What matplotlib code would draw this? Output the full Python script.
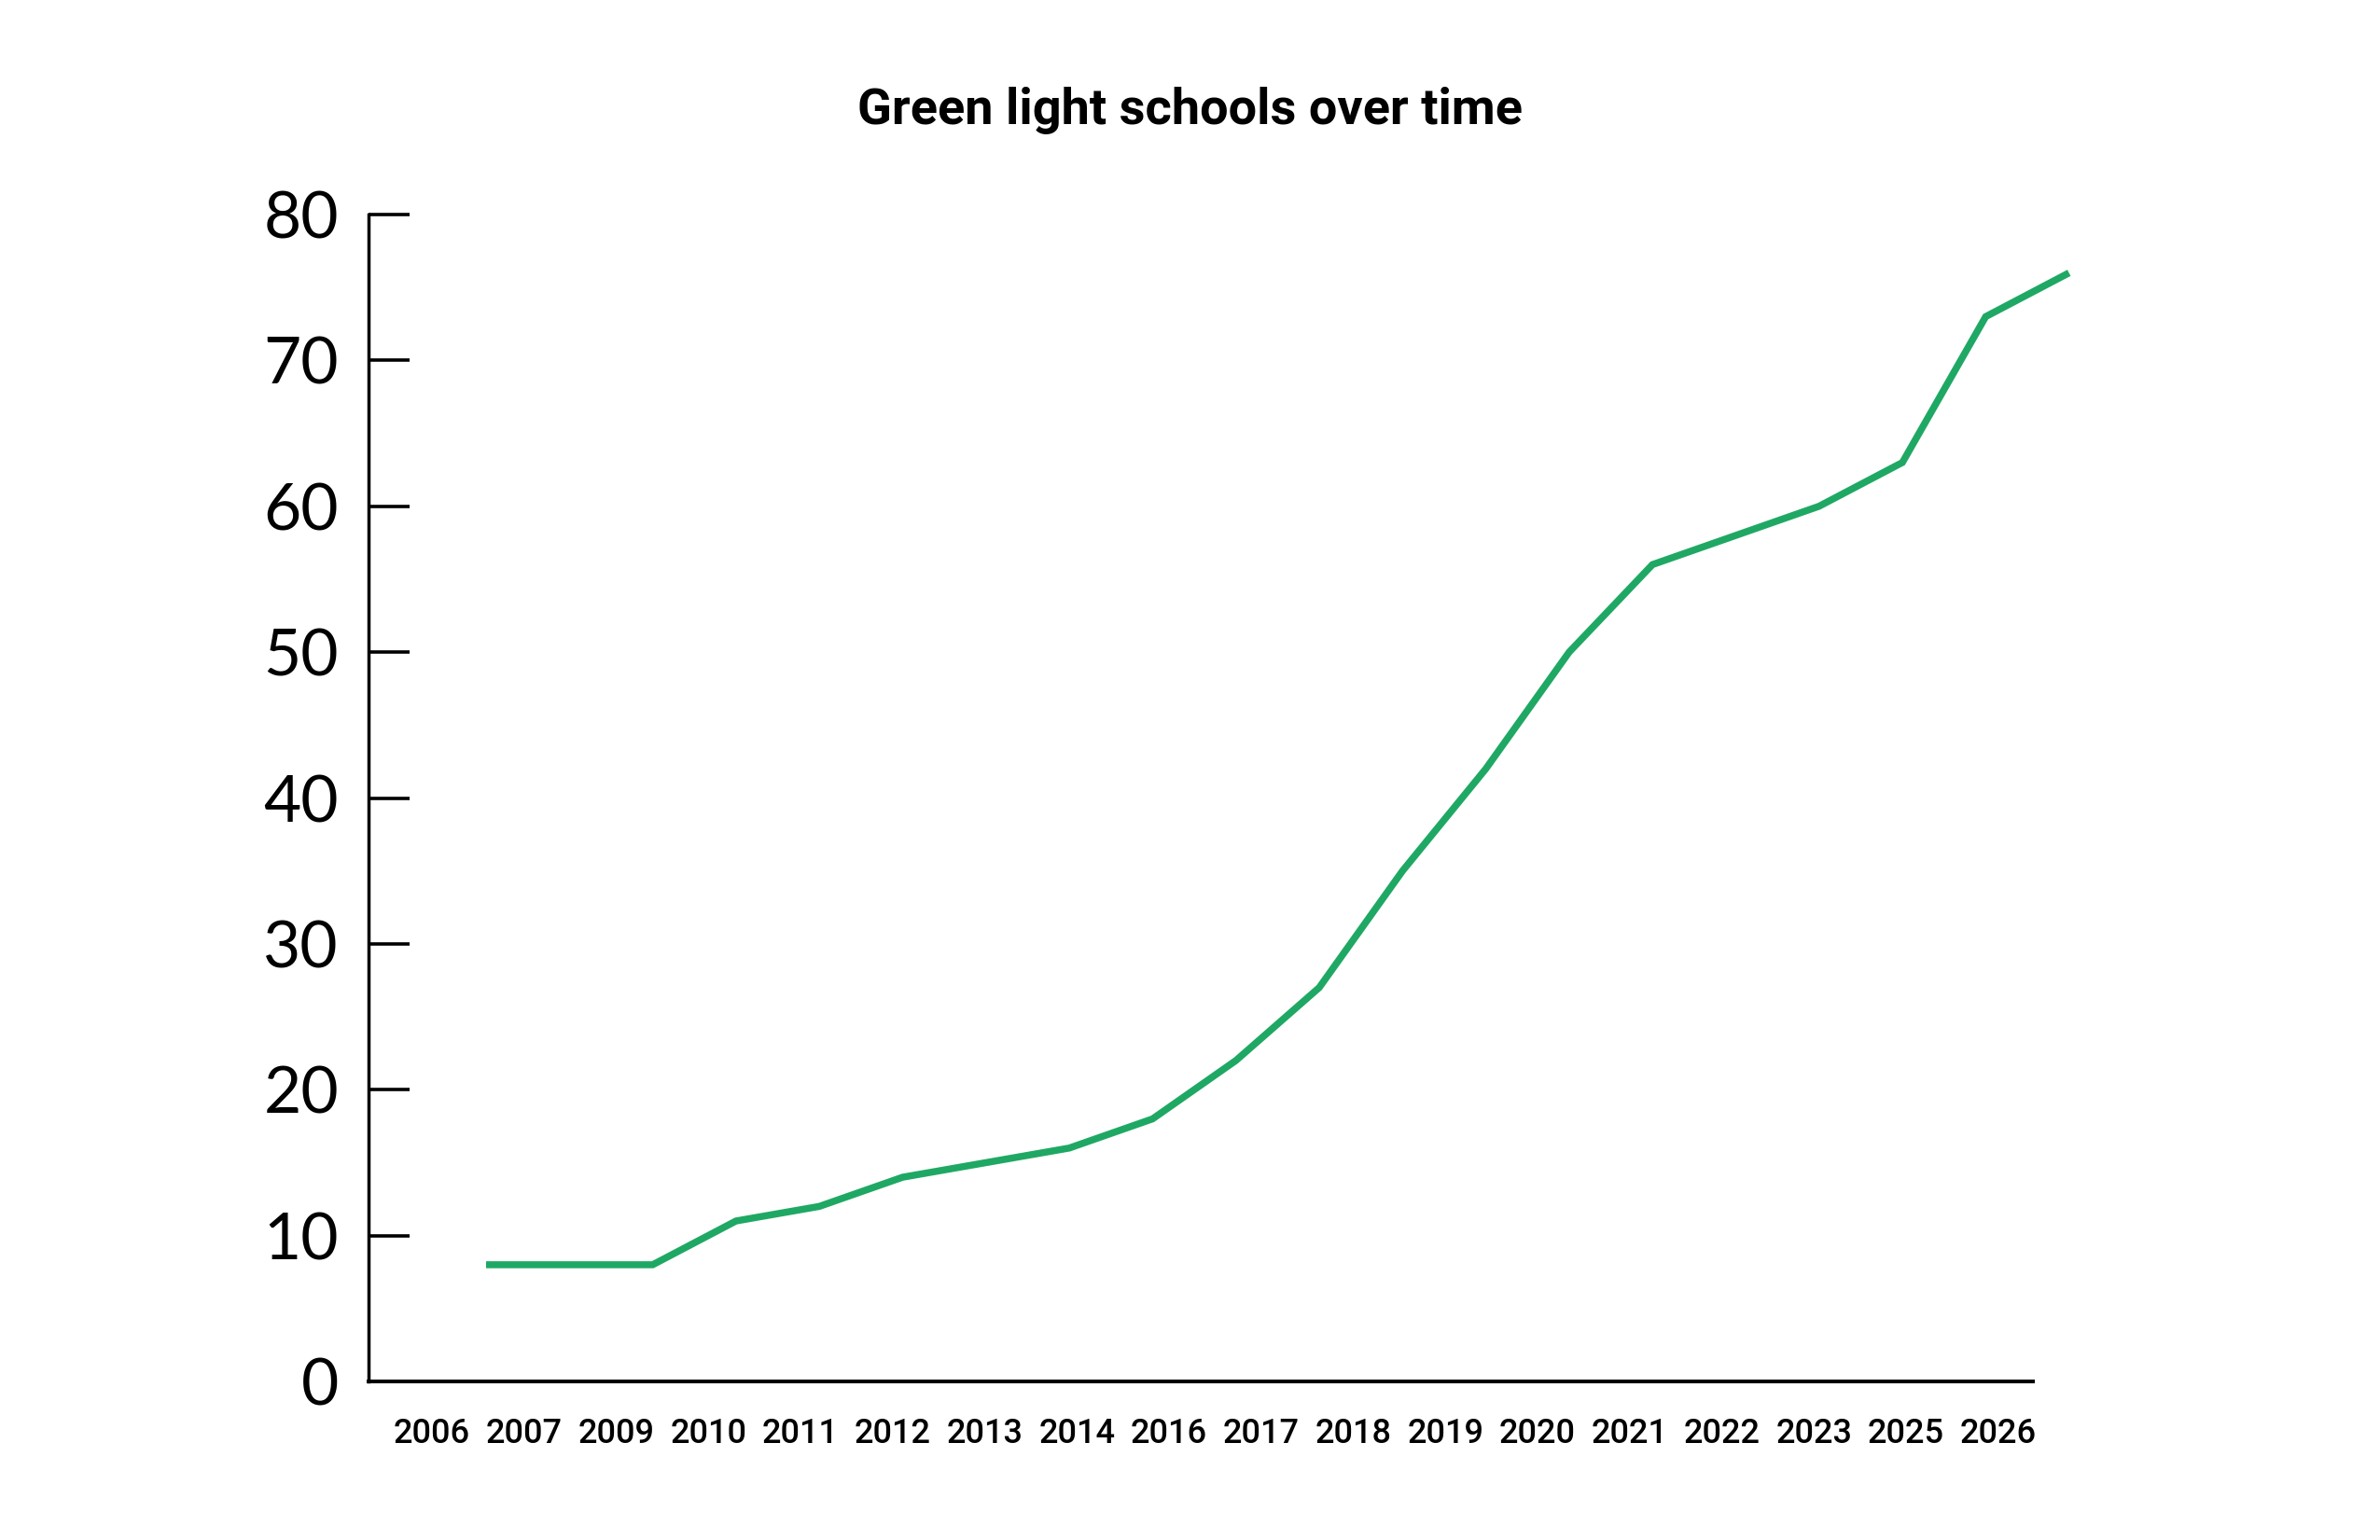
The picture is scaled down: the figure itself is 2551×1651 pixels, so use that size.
import matplotlib
matplotlib.use("Agg")
import matplotlib.pyplot as plt
import numpy as np

# Data
values = [8, 8, 8, 11, 12, 14, 15, 16, 18, 22, 27, 35, 42, 50, 56, 58, 60, 63, 73, 76]
tick_labels = ["2006", "2007", "2009", "2010", "2011", "2012", "2013", "2014", "2016",
               "2017", "2018", "2019", "2020", "2021", "2022", "2023", "2025", "2026"]
y_ticks = [0, 10, 20, 30, 40, 50, 60, 70, 80]

title = "Green light schools over time"
line_color = "#1FA864"

W, H = 2551, 1651
fig = plt.figure(figsize=(W / 100, H / 100), dpi=100)
ax = fig.add_axes([395 / W, 1 - 1481 / H, (2179 - 395) / W, (1481 - 230) / H])

x = np.arange(len(values))
ax.plot(x, values, color=line_color, lw=5.4, solid_joinstyle="miter",
        solid_capstyle="butt", clip_on=False, zorder=3)

ax.set_xlim(-1.411, 18.567)
ax.set_ylim(0, 80)

tick_pos = np.linspace(-0.65, 18.15, len(tick_labels))
ax.set_xticks(tick_pos)
ax.set_xticklabels(tick_labels, family=["Roboto", "DejaVu Sans"],
                   fontweight="medium", fontsize=26)
ax.tick_params(axis="x", length=0, pad=28)

ax.set_yticks(y_ticks)
ax.set_yticklabels([str(v) for v in y_ticks], family=["Lato", "DejaVu Sans"], fontsize=50)
ax.tick_params(axis="y", direction="in", length=32, width=2.6, pad=23)

for s in ["top", "right"]:
    ax.spines[s].set_visible(False)
ax.spines["left"].set_linewidth(2.5)
ax.spines["bottom"].set_linewidth(2.9)

fig.text(0.5, 1 - 133 / H, title, ha="center", va="baseline",
         family=["Roboto", "DejaVu Sans"], fontweight="bold", fontsize=39)

fig.savefig("out.png", dpi=100)
